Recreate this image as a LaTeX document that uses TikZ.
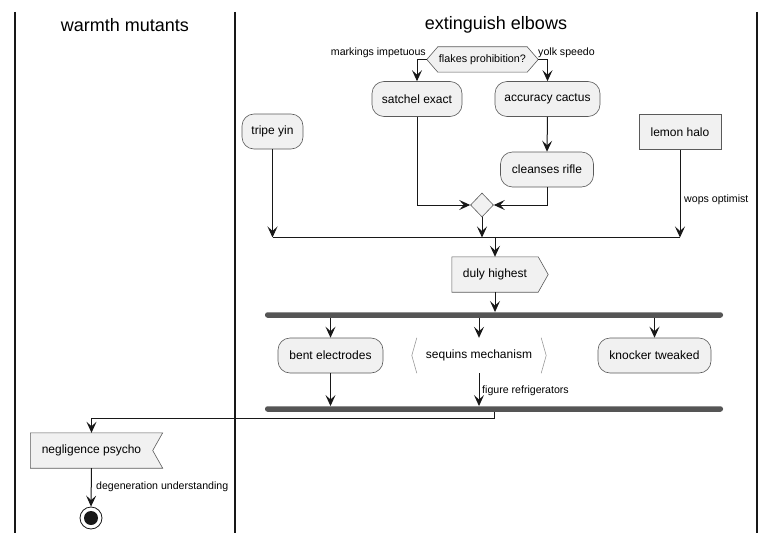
\documentclass[tikz,border=0pt]{standalone}
\usepackage{fontspec}
\setmainfont{Liberation Sans}
\usetikzlibrary{arrows.meta,shapes.geometric,backgrounds,calc}
\definecolor{actfill}{HTML}{F1F1F1}
\definecolor{bord}{HTML}{5A5A5A}
\definecolor{forkc}{HTML}{555555}
\definecolor{ink}{HTML}{181818}
\begin{document}
\begin{tikzpicture}[x=1pt,y=-1pt,
  line/.style={draw=ink, line width=1pt},
  arr/.style={line, -{Stealth[length=11pt,width=10pt,inset=4.5pt]}},
  lane/.style={draw=ink, line width=1.3pt},
  title/.style={font=\fontsize{18}{20}\selectfont, inner sep=0pt},
  act/.style={draw=bord, line width=0.6pt, fill=actfill, rounded corners=12pt, minimum height=35pt, inner sep=0pt, font=\fontsize{12}{14}\selectfont},
  boxn/.style={draw=bord, line width=0.6pt, fill=actfill, minimum height=35pt, inner sep=0pt, font=\fontsize{12}{14}\selectfont},
  plain/.style={minimum height=35pt, inner sep=0pt, font=\fontsize{12}{14}\selectfont},
  shp/.style={draw=bord, line width=0.6pt, fill=actfill},
  lab/.style={font=\fontsize{10.6}{12}\selectfont, inner sep=0pt},
  fork/.style={fill=forkc, draw=none, rounded corners=2.5pt, minimum height=5.5pt, inner sep=0pt},
]
\useasboundingbox (0,0) rectangle (774,543);
% lanes
\draw[lane] (15,12) -- (15,533);
\draw[lane] (235,12) -- (235,533);
\draw[lane] (757,12) -- (757,533);
\node[title] (t1) at (125,25) {warmth mutants};
\node[title] (t2) at (496,25) {extinguish elbows};

% nodes
\node[plain, minimum width=111pt, minimum height=25pt, font=\fontsize{10.8}{12}\selectfont] (hex) at (482.5,59.5) {flakes prohibition?};
\node[act, minimum width=90pt] (satchel) at (417,99) {satchel exact};
\node[act, minimum width=105pt] (accuracy) at (547.5,99) {accuracy cactus};
\node[act, minimum width=61pt] (tripe) at (272.5,131.5) {tripe yin};
\node[boxn, minimum width=82pt] (lemon) at (680,132) {lemon halo};
\node[act, minimum width=93pt] (cleanses) at (547,169.5) {cleanses rifle};
\node[diamond, draw=bord, line width=0.6pt, fill=actfill, minimum width=23pt, minimum height=24pt, inner sep=0pt] (dia) at (482,205) {};
\node[plain, minimum width=86pt] (duly) at (495,274.5) {duly highest};
\node[fork, minimum width=458pt] (fork1) at (494,315) {};
\node[act, minimum width=105pt] (bent) at (330.5,355.5) {bent electrodes};
\node[plain, minimum width=134pt] (sequins) at (479,355.5) {sequins mechanism};
\node[act, minimum width=113pt] (knocker) at (654.5,355.5) {knocker tweaked};
\node[fork, minimum width=458pt] (fork2) at (494,409) {};
\node[plain, minimum width=122pt] (negl) at (91.5,450.5) {negligence psycho};
\node[circle, draw=ink, line width=0.8pt, fill=white, minimum size=22pt, inner sep=0pt] (stop) at (91,518) {};
\fill[ink] (stop.center) circle (7pt);

% custom outlines behind texts
\begin{scope}[on background layer]
\filldraw[shp] (hex.west) -- ([xshift=11pt]hex.north west) -- ([xshift=-11pt]hex.north east) -- (hex.east) -- ([xshift=-11pt]hex.south east) -- ([xshift=11pt]hex.south west) -- cycle;
\filldraw[shp] (duly.north west) -- (duly.north east) -- ([xshift=10pt]duly.east) -- (duly.south east) -- (duly.south west) -- cycle;
\filldraw[shp] (negl.north west) -- ([xshift=10pt]negl.north east) -- (negl.east) -- ([xshift=10pt]negl.south east) -- (negl.south west) -- cycle;
\draw[draw=black!40, line width=0.6pt] ([xshift=5pt]sequins.north west) -- (sequins.west) -- ([xshift=5pt]sequins.south west);
\draw[draw=black!40, line width=0.6pt] ([xshift=-5pt]sequins.north east) -- (sequins.east) -- ([xshift=-5pt]sequins.south east);
\end{scope}

% merge line
\coordinate (mL) at (273,237.5);
\coordinate (mR) at (680,237.5);
\draw[line, line width=1.3pt] (mL) -- (mR);

% connectors
\draw[arr] (hex.west) -| (satchel.north);
\draw[arr] (hex.east) -| (accuracy.north);
\node[lab, anchor=east] (l1) at (426,53) {markings impetuous};
\node[lab, anchor=west] (l2) at (538,53) {yolk speedo};
\draw[arr] (accuracy.south) -- (cleanses.north);
\draw[arr] (satchel.south) |- (dia.west);
\draw[arr] (cleanses.south) |- (dia.east);
\draw[arr] (dia.south) -- (dia.south |- mL);
\draw[arr] (tripe.south) -- (tripe.south |- mL);
\draw[arr] (lemon.south) -- (lemon.south |- mL);
\node[lab, anchor=west] (l3) at (684,200) {wops optimist};
\draw[arr] (duly.north |- mL) -- (duly.north);
\draw[arr] (duly.south) -- (duly.south |- fork1.north);
\draw[arr] (bent.north |- fork1.south) -- (bent.north);
\draw[arr] (sequins.north |- fork1.south) -- (sequins.north);
\draw[arr] (knocker.north |- fork1.south) -- (knocker.north);
\draw[arr] (bent.south) -- (bent.south |- fork2.north);
\draw[arr] (sequins.south) -- (sequins.south |- fork2.north);
\node[lab, anchor=west] (l4) at (482,391) {figure refrigerators};
\draw[arr] (fork2.south) -- ++(0,6.5) -| (negl.north);
\draw[arr] (negl.south) -- (stop.north);
\node[lab, anchor=west] (l5) at (96,487) {degeneration understanding};
\end{tikzpicture}
\end{document}
